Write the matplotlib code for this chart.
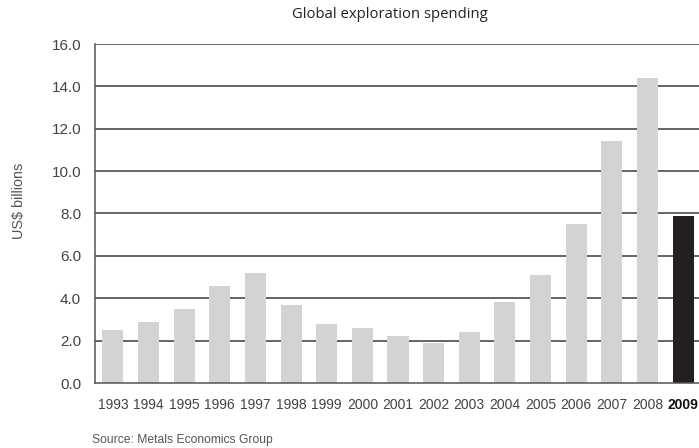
import matplotlib.pyplot as plt

years = ['1993', '1994', '1995', '1996', '1997', '1998', '1999', '2000', '2001',
         '2002', '2003', '2004', '2005', '2006', '2007', '2008', '2009']
spending = [2.5, 2.9, 3.5, 4.6, 5.2, 3.7, 2.8, 2.6, 2.2,
            1.9, 2.4, 3.8, 5.1, 7.5, 11.4, 14.4, 7.9]
yticks = [0, 2, 4, 6, 8, 10, 12, 14, 16]

W, H = 699, 448
fig = plt.figure(figsize=(W / 100, H / 100), dpi=100)
ax = fig.add_axes([95 / W, 65 / H, 606 / W, 339 / H])

colors = ['#d1d3d4'] * (len(years) - 1) + ['#231f20']
x = range(len(years))
ax.bar(x, spending, width=0.59, color=colors, zorder=1)

for t in yticks[1:]:
    ax.axhline(t, color='#3a3a3a', lw=1.1, zorder=0)

ax.set_xlim(-0.5, len(years) - 0.5)
ax.set_ylim(0, 16)
ax.set_yticks(yticks)
ax.set_yticklabels([f'{t:.1f}' for t in yticks], fontsize=11,
                   color='#444444', family='Liberation Sans')
ax.set_xticks(list(x))
ax.set_xticklabels(years, fontsize=10, color='#444444', family='Liberation Sans')
lbl = ax.get_xticklabels()[-1]
lbl.set_fontweight('bold')
lbl.set_color('#111111')

ax.tick_params(length=0, pad=11)
ax.tick_params(axis='y', pad=10)
for s in ['top', 'right']:
    ax.spines[s].set_visible(False)
for s in ['left', 'bottom']:
    ax.spines[s].set_color('#555555')
    ax.spines[s].set_linewidth(1.1)

fig.text(390 / W, 1 - 15 / H, 'Global exploration spending', ha='center',
         va='center', fontsize=10.7, color='#222222', family='Open Sans')
fig.text(19 / W, 1 - 201 / H, 'US$ billions', rotation=90, ha='center',
         va='center', fontsize=10.4, color='#555555', family='Liberation Sans')
fig.text(92 / W, 1 - 440 / H, 'Source: Metals Economics Group', ha='left',
         va='center', fontsize=8.7, color='#555555', family='Liberation Sans')

fig.savefig('out.png', dpi=100)
